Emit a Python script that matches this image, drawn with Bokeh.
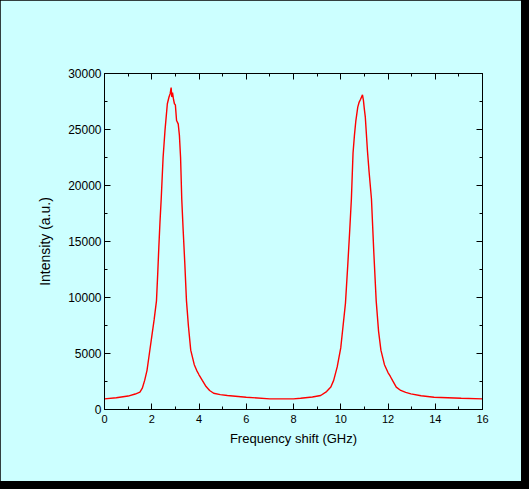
from bokeh.plotting import figure
from bokeh.models import Range1d, LinearAxis, SingleIntervalTicker, CustomJSTickFormatter
from bokeh.embed import file_html
from bokeh.resources import INLINE

freq = [0.0, 0.5, 1.0, 1.3, 1.5, 1.6, 1.7, 1.8, 1.9, 2.0, 2.1, 2.2, 2.25, 2.3, 2.35, 2.4,
        2.48, 2.56, 2.66, 2.73, 2.78, 2.82, 2.85, 2.88, 2.92, 2.96, 3.0, 3.05, 3.12,
        3.17, 3.22, 3.27, 3.33, 3.4, 3.47, 3.55, 3.65, 3.8, 3.9, 4.0, 4.14, 4.3, 4.45,
        4.62, 4.9, 5.2, 6.0, 7.0, 8.0, 8.3, 8.8, 9.15, 9.4, 9.58, 9.7, 9.85, 10.0, 10.1,
        10.2, 10.3, 10.38, 10.45, 10.52, 10.58, 10.64, 10.72, 10.78, 10.84, 10.88,
        10.92, 10.96, 11.0, 11.04, 11.13, 11.2, 11.3, 11.4, 11.5, 11.6, 11.7, 11.85,
        12.0, 12.1, 12.19, 12.35, 12.54, 12.75, 12.97, 13.4, 13.95, 15.1, 16.0]
intensity = [950, 1050, 1200, 1380, 1550, 1900, 2600, 3500, 5000, 6500, 8000, 9700,
             12000, 14500, 16800, 18800, 22500, 24900, 27300, 27900, 28200, 28750, 27900,
             28300, 27700, 27300, 27200, 25800, 25500, 24500, 22500, 18800, 16000, 13000,
             9700, 7500, 5300, 4000, 3500, 3100, 2600, 2050, 1700, 1450, 1330, 1250, 1100,
             950, 950, 1000, 1120, 1250, 1600, 2000, 2600, 3800, 5500, 7500, 9500, 13000,
             16000, 18800, 22900, 24500, 25800, 27000, 27450, 27700, 27900, 28100, 27600,
             26800, 26100, 23100, 21200, 18800, 14000, 9700, 7000, 5300, 4000, 3300, 2950,
             2600, 2000, 1700, 1530, 1400, 1230, 1100, 1000, 950]

BG = "#ccffff"
FONT = "Liberation Sans"

p = figure(width=521, height=481, output_backend="svg", toolbar_location=None,
           x_range=Range1d(0, 16), y_range=Range1d(0, 30000),
           min_border_left=104, min_border_right=39, min_border_top=73,
           min_border_bottom=72, background_fill_color=BG, border_fill_color=BG,
           x_axis_label="Frequency shift (GHz)", y_axis_label="Intensity (a.u.)")
p.grid.visible = False
p.outline_line_color = None

p.line(freq, intensity, line_color="red", line_width=1.4)

xt = SingleIntervalTicker(interval=2, num_minor_ticks=2)
yt = SingleIntervalTicker(interval=5000, num_minor_ticks=2)
p.xaxis.ticker = xt
p.yaxis.ticker = yt

blank = CustomJSTickFormatter(code="return '';")
top = LinearAxis(ticker=xt, formatter=blank)
right = LinearAxis(ticker=yt, formatter=blank)
p.add_layout(top, "above")
p.add_layout(right, "right")

for ax in p.axis:
    ax.axis_line_color = "black"
    ax.major_tick_line_color = "black"
    ax.minor_tick_line_color = "black"
    ax.major_tick_in = 6
    ax.major_tick_out = 0
    ax.minor_tick_in = 3
    ax.minor_tick_out = 0
    ax.major_label_text_font = FONT
    ax.major_label_text_color = "black"
    ax.axis_label_text_font = FONT
    ax.axis_label_text_font_style = "normal"
    ax.axis_label_text_color = "black"

for ax in (top, right):
    ax.major_label_standoff = 0

p.xaxis[0].major_label_text_font_size = "12px"
p.yaxis[0].major_label_text_font_size = "12px"
p.xaxis[0].major_label_standoff = 10
p.yaxis[0].major_label_standoff = 3
p.xaxis[0].axis_label_text_font_size = "13.5px"
p.yaxis[0].axis_label_text_font_size = "14px"
p.xaxis[0].axis_label_standoff = 6
p.yaxis[0].axis_label_standoff = 12

html = file_html(p, INLINE)
html = html.replace("</head>", "<style>body{background:#000;}</style></head>", 1)
open("out.html", "w").write(html)
